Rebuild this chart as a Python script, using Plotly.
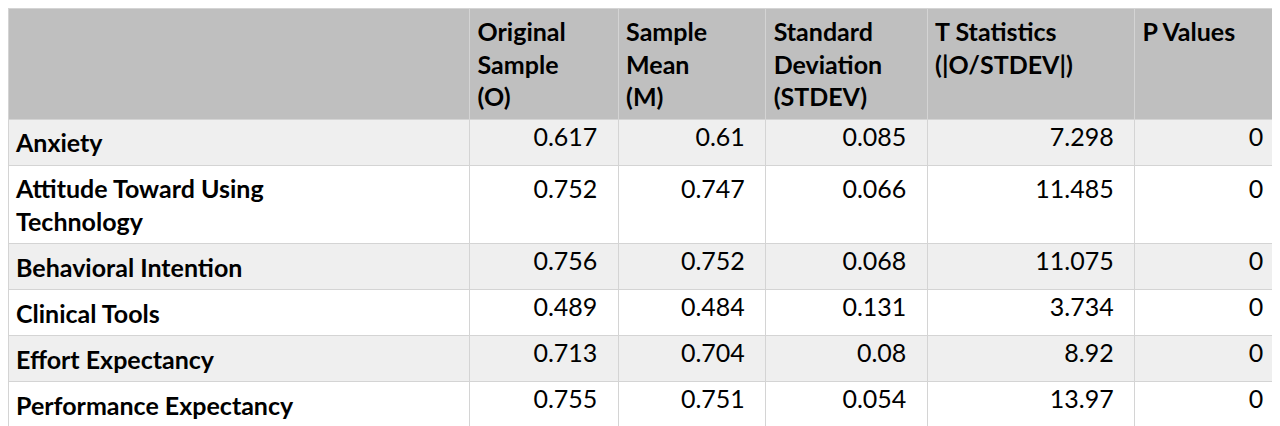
import plotly.graph_objects as go

# dane z tabeli
constructs = ["Anxiety", "Attitude Toward Using<br>Technology", "Behavioral Intention",
              "Clinical Tools", "Effort Expectancy", "Performance Expectancy"]
original_sample = ["0.617", "0.752", "0.756", "0.489", "0.713", "0.755"]
sample_mean = ["0.61", "0.747", "0.752", "0.484", "0.704", "0.751"]
std_dev = ["0.085", "0.066", "0.068", "0.131", "0.08", "0.054"]
t_stats = ["7.298", "11.485", "11.075", "3.734", "8.92", "13.97"]
p_values = ["0", "0", "0", "0", "0", "0"]

headers = ["", "Original<br>Sample<br>(O)", "Sample<br>Mean<br>(M)", "Standard<br>Deviation<br>(STDEV)",
           "T Statistics<br>(|O/STDEV|)", "P Values"]

row_colors = ["#efefef", "#ffffff"] * 3
line_col = "#d4d4d4"


def num_col(vals):
    # druga komórka dwulinijkowa, żeby wszystkie kolumny były liczone tak samo
    out = [v + "  " for v in vals]
    out[1] = out[1] + "<br> "
    return out


fig = go.Figure(go.Table(
    columnwidth=[463, 149, 148, 162, 208, 150],
    header=dict(
        values=["<b>%s</b>" % h for h in headers],
        fill_color="#bfbfbf",
        line_color=line_col,
        align="left",
        height=40,
        font=dict(family="Lato", size=25, color="black"),
    ),
    cells=dict(
        values=[["<b>%s</b>" % c for c in constructs],
                num_col(original_sample), num_col(sample_mean),
                num_col(std_dev), num_col(t_stats), num_col(p_values)],
        fill_color=[row_colors] * 6,
        line_color=line_col,
        align=["left", "right", "right", "right", "right", "right"],
        height=45,
        font=dict(family="Lato", size=25, color="black"),
    ),
    domain=dict(x=[0, 0.997], y=[0, 1]),
))

fig.update_layout(width=1280, height=426, margin={"r": 0, "t": 0, "l": 0, "b": 0},
                  paper_bgcolor="white")

fig.write_html("out.html")
